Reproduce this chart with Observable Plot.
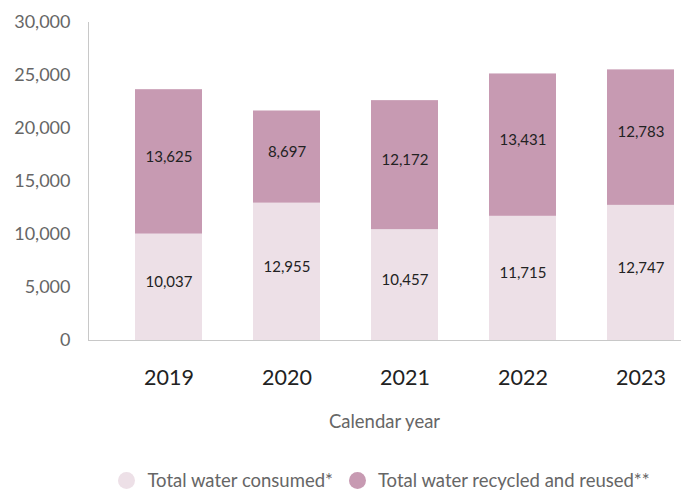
<!DOCTYPE html>
<html><head><meta charset="utf-8">
<script src="https://cdn.jsdelivr.net/npm/d3@7"></script>
<script src="https://cdn.jsdelivr.net/npm/@observablehq/plot@0.6"></script>
<style>
body{margin:0;background:#fff;font-family:Lato,"Open Sans",sans-serif;}
#legend{display:flex;justify-content:center;align-items:center;padding-left:88px;padding-right:3px;margin-top:19px;font-size:18.5px;color:#666;}
.sw{display:inline-block;width:17px;height:17px;border-radius:50%;margin-right:12px;}
.item{display:flex;align-items:center;margin:0 8px;}
</style></head><body>
<div id="chart"></div>
<script>
const years = ["2019","2020","2021","2022","2023"];
const consumed = [10037, 12955, 10457, 11715, 12747];
const recycled = [13625, 8697, 12172, 13431, 12783];
const seriesNames = ["Total water consumed*", "Total water recycled and reused**"];
const colors = ["#ede0e7", "#c79ab2"];
const yTicks = [0, 5000, 10000, 15000, 20000, 25000, 30000];

const data = [];
years.forEach((y, i) => {
  data.push({year: y, series: seriesNames[0], value: consumed[i]});
  data.push({year: y, series: seriesNames[1], value: recycled[i]});
});
const fmt = d3.format(",");

const chart = Plot.plot({
  width: 683, height: 450,
  marginLeft: 88, marginRight: 3, marginTop: 22, marginBottom: 110,
  style: {fontFamily: "Lato, 'Open Sans', sans-serif", background: "#fff"},
  x: {domain: years, paddingInner: 0.436, paddingOuter: 0.21, align: 0.88, label: null},
  y: {domain: [0, 30000], label: null},
  color: {domain: seriesNames, range: colors},
  marks: [
    Plot.barY(data, Plot.stackY({x: "year", y: "value", fill: "series", order: seriesNames})),
    Plot.text(data, Plot.stackY({x: "year", y: "value", z: "series", order: seriesNames, text: d => fmt(d.value), fill: "#222", fontSize: 15, dy: -5})),
    Plot.frame({anchor: "left", stroke: "#c8c8c8"}),
    Plot.frame({anchor: "bottom", stroke: "#c8c8c8"}),
    Plot.axisY({ticks: yTicks, tickFormat: fmt, tickSize: 0, tickPadding: 18, fontSize: 18, color: "#666", label: null}),
    Plot.axisX({tickSize: 0, tickPadding: 29, fontSize: 21.5, color: "#222", label: "Calendar year", labelAnchor: "center", labelOffset: 87, labelArrow: "none"})
  ]
});
chart.querySelectorAll('g[aria-label="x-axis label"] text, g[aria-label="x-axis label"]').forEach(e => { e.setAttribute("fill", "#666"); e.style.fontSize = "18.5px"; });
document.getElementById("chart").appendChild(chart);

const leg = document.createElement("div");
leg.id = "legend";
seriesNames.forEach((s, i) => {
  const it = document.createElement("span");
  it.className = "item";
  const sw = document.createElement("span");
  sw.className = "sw";
  sw.style.background = colors[i];
  it.appendChild(sw);
  it.appendChild(document.createTextNode(s));
  leg.appendChild(it);
});
document.body.appendChild(leg);
</script>
</body></html>
